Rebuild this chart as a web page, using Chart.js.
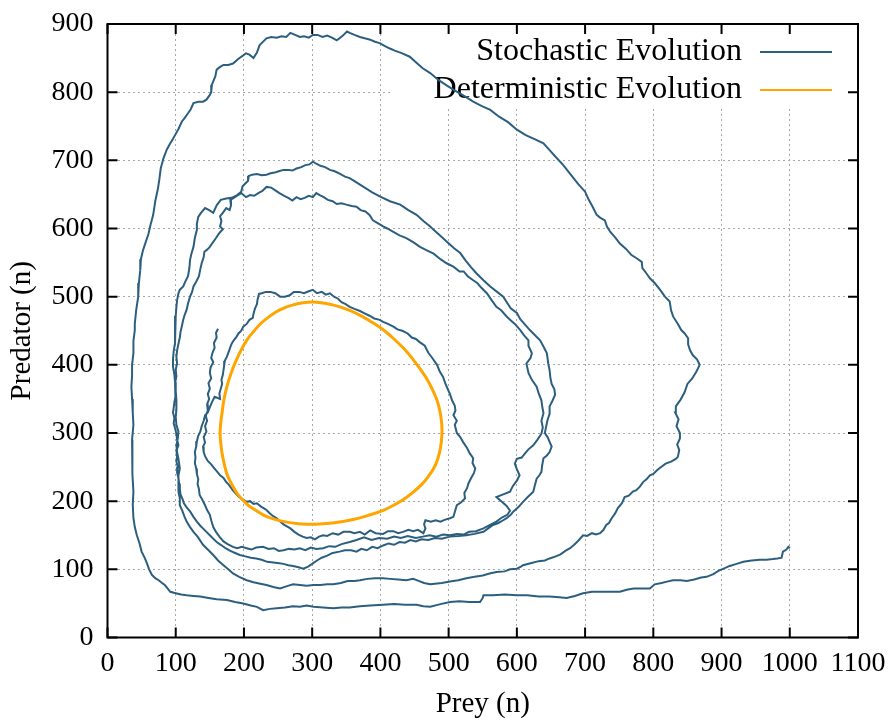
<!DOCTYPE html>
<html lang="en">
<head>
    <meta charset="UTF-8">
    <title>Predator-Prey Phase Plane</title>
    <script src="https://cdn.jsdelivr.net/npm/chart.js"></script>
    <style>
        body {
            margin: 0;
            padding: 0;
            background-color: #fff;
        }

        canvas {
            display: block;
        }
    </style>
</head>
<body>
    <canvas id="phaseChart" width="888" height="722"></canvas>

    <script>
        // Axis ticks
        const preyTicks = [0, 100, 200, 300, 400, 500, 600, 700, 800, 900, 1000, 1100];
        const predatorTicks = [0, 100, 200, 300, 400, 500, 600, 700, 800, 900];

        // Stochastic run, [prey, predator] in time order
        const stochasticPath = [
            [162,453],[159,447],[160,440],[156,432],[157,425],[154,418],[152,410],[155,404],[151,396],[150,388],
            [152,380],[148,373],[150,365],[147,357],[149,350],[146,342],[147,333],[144,325],[146,318],[143,310],
            [145,302],[141,294],[143,286],[140,280],[141,272],[143,266],[147,259],[152,254],[156,249],[161,243],
            [165,238],[170,234],[174,228],[178,224],[183,217],[188,211],[193,206],[199,202],[204,199],[209,200],
            [214,196],[219,197],[225,192],[230,189],[233,187],[238,182],[243,178],[248,175],[253,170],[258,166],
            [263,163],[268,160],[274,155],[280,151],[286,148],[292,146],[298,147],[304,144],[310,148],[316,150],
            [322,149],[330,153],[338,151],[346,155],[355,155],[362,153],[370,155],[377,151],[385,157],[393,153],
            [404,152],[411,156],[419,156],[426,153],[433,155],[441,158],[448,156],[455,158],[463,153],[466,160],
            [464,166],[466,172],[474,170],[481,172],[488,170],[495,173],[502,175],[507,177],[509,184],[512,194],
            [518,198],[524,204],[523,212],[527,219],[529,226],[533,234],[537,241],[539,248],[535,256],[536,263],
            [531,270],[527,278],[521,287],[517,294],[512,300],[509,312],[512,318],[507,326],[510,333],[509,340],
            [505,348],[502,357],[498,366],[495,373],[492,382],[487,390],[483,400],[476,410],[470,418],[465,428],
            [458,433],[452,438],[446,440],[440,446],[432,450],[425,452],[419,456],[411,460],[404,463],[399,466],
            [391,468],[384,472],[376,476],[370,479],[362,482],[355,485],[349,489],[343,492],[338,497],[332,500],
            [326,505],[320,503],[314,507],[307,505],[301,510],[295,508],[288,505],[281,507],[273,507],[267,502],
            [260,500],[253,500],[246,505],[239,507],[232,507],[226,505],[222,504],[220,496],[219,489],[216,482],
            [214,475],[213,469],[208,466],[204,460],[199,456],[196,450],[192,446],[189,441],[185,436],[182,431],
            [180,426],[178,420],[175,412],[172,406],[171,399],[170,392],[169,385],[167,378],[168,372],[166,365],
            [164,358],[165,350],[157,353],[153,345],[150,338],[147,330],[143,326],[141,318],[138,310],[136,302],
            [133,296],[131,288],[130,280],[128,272],[129,264],[128,256],[130,248],[131,240],[133,232],[132,225],
            [134,218],[135,209],[139,202],[143,194],[146,187],[150,180],[152,172],[155,162],[159,155],[164,148],
            [170,141],[176,137],[184,133],[190,131],[197,133],[204,131],[211,129],[218,132],[228,133],[236,130],
            [244,131],[251,127],[258,128],[266,130],[274,129],[282,131],[290,128],[298,132],[306,130],[316,131],
            [325,134],[334,133],[343,137],[355,140],[365,143],[376,147],[387,143],[398,146],[410,145],[420,148],
            [430,146],[440,149],[452,146],[462,148],[472,150],[482,148],[492,151],[502,150],[512,152],[522,151],
            [530,155],[540,156],[551,160],[560,165],[570,170],[578,176],[586,180],[590,186],[585,193],[578,199],
            [570,206],[580,210],[590,214],[594,222],[600,230],[604,238],[600,247],[597,255],[600,262],[607,264],
            [612,270],[617,276],[624,282],[630,290],[636,299],[638,308],[636,318],[639,329],[637,340],[636,348],
            [632,358],[629,368],[622,378],[617,388],[614,402],[620,410],[622,417],[617,428],[617,436],[610,444],
            [605,451],[597,460],[590,466],[584,472],[577,480],[570,485],[563,495],[556,505],[548,513],[542,520],
            [536,524],[528,530],[522,537],[516,537],[507,544],[497,549],[488,555],[478,563],[468,568],[458,573],
            [448,580],[438,586],[428,590],[419,595],[410,600],[404,603],[396,608],[389,612],[384,620],[378,625],
            [371,627],[365,632],[358,633],[350,635],[343,637],[336,636],[330,640],[323,642],[317,646],[311,649],
            [306,652],[301,646],[295,648],[289,645],[283,643],[277,646],[271,641],[265,645],[259,648],[252,652],
            [246,656],[240,660],[233,661],[227,655],[221,652],[215,648],[209,649],[203,646],[196,652],[190,648],
            [184,644],[180,642],[181,634],[179,627],[174,630],[169,623],[165,618],[167,611],[165,603],[169,599],
            [163,592],[159,586],[154,579],[150,573],[146,569],[142,566],[141,558],[138,549],[136,540],[134,530],
            [130,522],[126,515],[124,507],[121,500],[118,490],[116,481],[113,473],[111,466],[109,457],[107,448],
            [106,440],[104,431],[102,421],[101,412],[102,402],[100,393],[101,383],[99,373],[100,363],[99,353],
            [98,345],[97,337],[96,330],[98,322],[97,314],[99,307],[101,299],[102,290],[104,282],[101,274],
            [102,266],[101,258],[103,250],[102,242],[104,234],[105,226],[106,218],[107,210],[110,203],[112,197],
            [116,191],[121,185],[126,177],[131,170],[136,164],[141,159],[145,155],[151,149],[156,144],[160,140],
            [166,136],[173,131],[180,127],[187,124],[194,121],[202,119],[210,117],[218,116],[226,114],[234,111],
            [243,110],[252,109],[258,108],[265,106],[272,105],[280,103],[287,101],[294,104],[300,108],[307,113],
            [314,117],[322,120],[330,124],[340,126],[348,128],[357,128],[365,126],[372,130],[380,128],[388,133],
            [396,131],[404,135],[412,138],[420,136],[428,140],[436,139],[444,143],[452,141],[460,144],[470,143],
            [480,146],[490,145],[502,148],[514,149],[526,150],[538,152],[551,155],[558,160],[565,165],[573,168],
            [580,172],[585,175],[591,180],[595,185],[602,191],[609,199],[616,206],[624,214],[626,222],[629,233],
            [633,238],[636,243],[637,252],[639,263],[644,267],[648,272],[651,280],[648,287],[645,294],[641,300],
            [643,310],[645,319],[648,328],[648,339],[652,347],[656,356],[655,364],[651,372],[649,382],[648,392],
            [646,402],[644,417],[639,427],[634,436],[627,443],[619,451],[612,459],[605,467],[600,476],[591,483],
            [580,500],[571,507],[561,515],[551,524],[541,534],[533,543],[525,553],[517,564],[508,571],[497,581],
            [487,590],[478,598],[473,603],[463,611],[453,620],[441,627],[429,635],[414,640],[399,647],[388,653],
            [377,660],[366,667],[355,674],[348,676],[341,680],[333,684],[326,686],[319,690],[312,692],[306,695],
            [301,698],[296,694],[290,693],[284,690],[277,688],[271,685],[265,686],[258,686],[251,684],[245,682],
            [239,681],[233,679],[226,678],[219,680],[212,679],[207,677],[206,670],[202,666],[198,662],[196,654],
            [190,649],[182,645],[174,644],[166,642],[160,634],[155,623],[149,627],[143,630],[137,623],[133,617],
            [131,607],[131,598],[128,586],[126,573],[123,563],[121,554],[120,542],[118,530],[114,522],[111,515],
            [106,510],[104,505],[102,495],[101,485],[100,472],[99,459],[99,446],[99,432],[97,420],[96,408],
            [96,397],[98,386],[99,375],[100,362],[101,348],[101,335],[100,323],[101,312],[104,302],[103,292],
            [101,282],[102,272],[104,262],[106,248],[104,238],[104,225],[104,214],[106,204],[106,194],[110,185],
            [113,177],[116,170],[121,162],[126,155],[132,148],[140,136],[147,129],[155,121],[162,113],[170,106],
            [177,100],[184,94],[193,89],[204,84],[214,81],[224,79],[233,77],[243,74],[253,72],[262,75],
            [272,78],[282,77],[292,76],[302,77],[312,77],[322,78],[331,78],[342,80],[352,83],[362,83],
            [370,84],[381,86],[392,87],[404,87],[414,86],[426,85],[438,84],[448,86],[456,83],[464,80],
            [473,78],[480,79],[490,80],[502,82],[514,84],[526,87],[538,89],[550,91],[560,94],[570,96],
            [582,97],[590,100],[600,101],[606,104],[609,106],[620,109],[632,112],[641,113],[648,116],[657,119],
            [664,122],[671,127],[678,131],[684,136],[690,142],[697,150],[703,149],[710,153],[716,151],[722,153],
            [727,158],[731,165],[735,168],[739,175],[744,182],[748,190],[754,197],[758,206],[764,208],[770,214],
            [775,216],[780,221],[785,228],[790,232],[795,238],[800,240],[805,245],[810,249],[818,255],[826,258],
            [833,262],[836,265],[838,275],[835,283],[839,292],[839,300],[834,310],[837,320],[832,330],[833,339],
            [840,349],[846,360],[850,372],[857,380],[863,390],[868,400],[864,408],[858,414],[854,421],[851,430],
            [851,439],[846,446],[841,451],[836,460],[829,471],[826,480],[824,493],[817,500],[810,510],[802,520],
            [795,527],[790,534],[784,542],[783,551],[776,556],[768,561],[760,570],[751,578],[744,587],[737,595],
            [732,603],[729,612],[722,616],[717,620],[711,632],[705,643],[700,654],[690,665],[679,679],[668,693],
            [656,706],[647,716],[639,725],[626,731],[613,737],[600,745],[587,756],[574,764],[561,774],[548,780],
            [536,786],[522,795],[508,803],[497,810],[485,818],[473,828],[462,835],[452,844],[443,852],[432,857],
            [421,861],[414,864],[406,868],[399,872],[392,874],[385,877],[377,879],[370,881],[362,884],[355,887],
            [351,889],[345,883],[340,879],[336,876],[329,880],[322,883],[315,881],[308,884],[301,884],[295,880],
            [288,882],[282,881],[275,884],[268,887],[262,881],[255,882],[248,880],[240,881],[233,879],[227,873],
            [223,869],[219,858],[214,850],[208,855],[203,857],[199,854],[192,849],[184,842],[177,840],[170,840],
            [165,837],[160,833],[158,823],[153,811],[152,800],[150,796],[145,789],[140,786],[133,786],[126,784],
            [122,775],[118,769],[113,762],[109,757],[104,746],[99,737],[95,730],[92,725],[87,716],[82,703],
            [78,688],[76,672],[74,659],[70,640],[67,620],[63,605],[60,592],[56,580],[52,568],[49,555],
            [48,539],[46,520],[45,500],[42,480],[40,460],[40,451],[38,435],[38,417],[36,400],[36,384],
            [35,368],[36,350],[37,330],[38,312],[36,290],[36,263],[37,240],[38,214],[37,195],[38,175],
            [40,162],[43,150],[47,138],[50,126],[54,118],[57,111],[61,100],[65,92],[70,87],[75,84],
            [80,80],[84,77],[88,72],[92,67],[100,65],[108,63],[116,62],[126,61],[136,60],[148,58],
            [160,56],[175,55],[187,52],[199,50],[210,47],[219,45],[228,40],[238,42],[248,43],[260,44],
            [272,46],[282,45],[292,47],[302,45],[316,44],[331,43],[343,44],[355,44],[370,46],[385,47],
            [404,48],[420,49],[436,48],[453,48],[463,46],[473,45],[488,49],[502,52],[516,53],[530,52],
            [546,52],[550,58],[551,62],[565,62],[582,63],[600,62],[615,62],[632,60],[648,60],[662,59],
            [673,58],[685,61],[697,65],[710,67],[722,67],[736,67],[751,67],[761,70],[771,72],[783,72],
            [795,72],[802,78],[812,80],[820,82],[829,84],[840,84],[849,83],[860,85],[870,88],[878,89],
            [888,93],[896,98],[903,101],[912,105],[922,108],[932,111],[944,113],[956,114],[966,114],[975,115],
            [982,116],[988,117],[990,126],[995,129],[998,133],[1000,131]
        ];

        // Deterministic limit cycle, [prey, predator], closed loop
        const deterministicPath = [
            [300,166],[330,168],[360,173],[385,180],[405,187],[421,195],[436,204],[449,214],[461,225],[470,236],
            [478,248],[484,262],[488,278],[490,295],[490,312],[488,328],[484,345],[478,360],[470,376],[461,390],
            [450,405],[438,420],[423,435],[406,450],[390,461],[375,470],[355,480],[330,488],[300,492],[272,488],
            [251,480],[236,470],[225,461],[215,450],[204,436],[195,420],[188,405],[182,390],[177,375],[173,360],
            [170,345],[168,330],[166,315],[165,300],[166,285],[168,270],[171,255],[175,240],[182,225],[191,210],
            [205,195],[215,188],[228,180],[243,174],[259,170],[280,167],[300,166]
        ];

        const seriesNames = ['Stochastic Evolution', 'Deterministic Evolution'];
        const seriesColors = ['#2c5f7f', '#ffa500'];

        const serif = "'Liberation Serif', 'Times New Roman', serif";

        // Key in the top right corner, on a white patch that hides the grid
        const keyPlugin = {
            id: 'key',
            beforeDatasetsDraw(chart) {
                const { ctx, chartArea: a } = chart;
                ctx.save();
                ctx.fillStyle = '#fff';
                ctx.fillRect(a.right - 468, a.top, 468, 85);
                ctx.font = '32px ' + serif;
                ctx.fillStyle = '#000';
                ctx.textAlign = 'right';
                ctx.textBaseline = 'middle';
                seriesNames.forEach((name, i) => {
                    const y = a.top + 28 + i * 38;
                    ctx.fillText(name, a.right - 116, y);
                    ctx.strokeStyle = seriesColors[i];
                    ctx.lineWidth = 2;
                    ctx.beginPath();
                    ctx.moveTo(a.right - 98, y);
                    ctx.lineTo(a.right - 26, y);
                    ctx.stroke();
                });
                ctx.restore();
            }
        };

        // gnuplot style border with inward ticks on all four sides
        const framePlugin = {
            id: 'frame',
            afterDraw(chart) {
                const { ctx, chartArea: a, scales } = chart;
                const len = 10;
                ctx.save();
                ctx.strokeStyle = '#000';
                ctx.lineWidth = 2;
                ctx.beginPath();
                preyTicks.forEach(v => {
                    const x = scales.x.getPixelForValue(v);
                    ctx.moveTo(x, a.bottom);
                    ctx.lineTo(x, a.bottom - len);
                    ctx.moveTo(x, a.top);
                    ctx.lineTo(x, a.top + len);
                });
                predatorTicks.forEach(v => {
                    const y = scales.y.getPixelForValue(v);
                    ctx.moveTo(a.left, y);
                    ctx.lineTo(a.left + len, y);
                    ctx.moveTo(a.right, y);
                    ctx.lineTo(a.right - len, y);
                });
                ctx.stroke();
                ctx.strokeRect(a.left, a.top, a.right - a.left, a.bottom - a.top);
                ctx.restore();
            }
        };

        // keep the plot area exactly where the layout padding puts it
        const noLabelOverflow = s => {
            s.paddingLeft = 0;
            s.paddingRight = 0;
            s.paddingTop = 0;
            s.paddingBottom = 0;
        };

        const toPoints = path => path.map(p => ({ x: p[0], y: p[1] }));

        new Chart(document.getElementById('phaseChart'), {
            type: 'scatter',
            data: {
                datasets: [{
                    label: seriesNames[0],
                    data: toPoints(stochasticPath),
                    showLine: true,
                    borderColor: seriesColors[0],
                    borderWidth: 2,
                    pointRadius: 0,
                    tension: 0,
                    order: 1
                }, {
                    label: seriesNames[1],
                    data: toPoints(deterministicPath),
                    showLine: true,
                    borderColor: seriesColors[1],
                    borderWidth: 3,
                    pointRadius: 0,
                    tension: 0.4,
                    order: 0
                }]
            },
            options: {
                responsive: false,
                animation: false,
                devicePixelRatio: 1,
                layout: {
                    padding: { top: 24, right: 30, left: 0, bottom: 0 }
                },
                plugins: {
                    legend: { display: false },
                    tooltip: { enabled: false }
                },
                scales: {
                    x: {
                        type: 'linear',
                        min: 0,
                        max: 1100,
                        afterFit: s => { s.height = 84.5; noLabelOverflow(s); },
                        afterBuildTicks: s => { s.ticks = preyTicks.map(v => ({ value: v })); },
                        ticks: {
                            color: '#000',
                            padding: 9,
                            maxRotation: 0,
                            callback: v => String(v),
                            font: { family: serif, size: 28 }
                        },
                        grid: { color: '#a8a8a8', lineWidth: 1, drawTicks: false },
                        border: { display: false, dash: [2, 3] },
                        title: {
                            display: true,
                            text: 'Prey (n)',
                            color: '#000',
                            font: { family: serif, size: 29 },
                            padding: { top: 0, bottom: 0 }
                        }
                    },
                    y: {
                        type: 'linear',
                        min: 0,
                        max: 900,
                        afterFit: s => { s.width = 107.5; noLabelOverflow(s); },
                        afterBuildTicks: s => { s.ticks = predatorTicks.map(v => ({ value: v })); },
                        ticks: {
                            color: '#000',
                            padding: 14,
                            callback: v => String(v),
                            font: { family: serif, size: 28 }
                        },
                        grid: { color: '#a8a8a8', lineWidth: 1, drawTicks: false },
                        border: { display: false, dash: [2, 3] },
                        title: {
                            display: true,
                            text: 'Predator (n)',
                            color: '#000',
                            font: { family: serif, size: 29 },
                            padding: { top: 5, bottom: 0 }
                        }
                    }
                }
            },
            plugins: [keyPlugin, framePlugin]
        });
    </script>
</body>
</html>
